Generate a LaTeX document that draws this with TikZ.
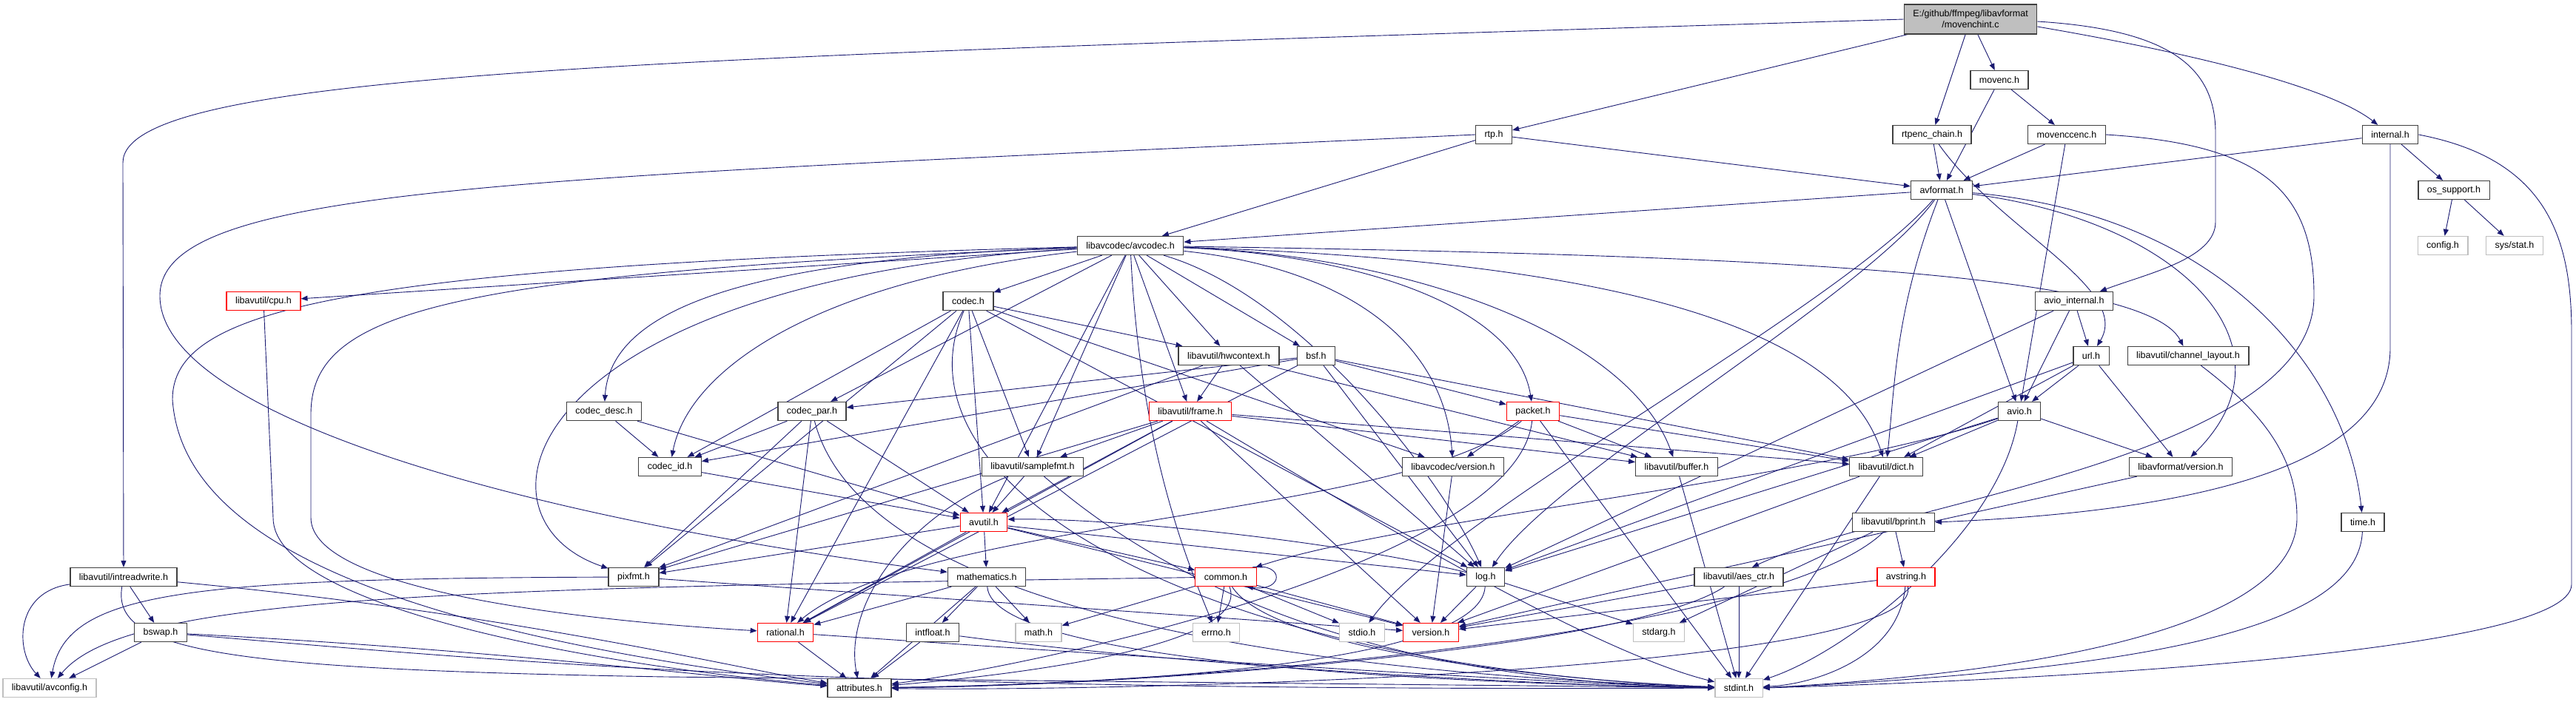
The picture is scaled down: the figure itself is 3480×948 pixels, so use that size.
\documentclass[tikz,border=0pt]{standalone}
\usepackage{fontspec}
\setmainfont{Liberation Sans}
\usetikzlibrary{arrows.meta,backgrounds}
\definecolor{edgeblue}{HTML}{191970}
\definecolor{boxline}{HTML}{404040}
\definecolor{sysgray}{HTML}{BFBFBF}

\begin{document}
\begin{tikzpicture}[x=1pt, y=-1pt,
        >={Triangle[length=9pt,width=7pt]},   %Pfeilspitzen
        font=\fontsize{12.5}{15}\selectfont,
        file/.style={draw=boxline, line width=1.3pt, fill=white, minimum height=25pt, inner xsep=12pt, inner ysep=0pt},
        trunc/.style={file, draw=red},
        sys/.style={file, draw=sysgray},
        dep/.style={->, draw=edgeblue, line width=0.9pt}]
        \useasboundingbox (0,0) rectangle (3480,948);
        % Knoten zeichnen
        \node[file, fill=sysgray, align=center, minimum height=40pt] (main) at (2662,26) {E:/github/ffmpeg/libavformat\\/movenchint.c};
        \node[file] (movenc) at (2701,108) {movenc.h};
        \node[file] (rtp) at (2018,182) {rtp.h};
        \node[file] (rtpchain) at (2610,182) {rtpenc\_chain.h};
        \node[file] (movcenc) at (2792,182) {movenccenc.h};
        \node[file] (internal) at (3229,182) {internal.h};
        \node[file] (avformat) at (2623,257) {avformat.h};
        \node[file] (ossupport) at (3315,257) {os\_support.h};
        \node[sys] (config) at (3300,332) {config.h};
        \node[sys] (sysstat) at (3397,332) {sys/stat.h};
        \node[file] (avcodec) at (1527,332) {libavcodec/avcodec.h};
        \node[trunc] (cpu) at (356,407) {libavutil/cpu.h};
        \node[file] (codec) at (1308,407) {codec.h};
        \node[file] (avioint) at (2802,407) {avio\_internal.h};
        \node[file] (hwctx) at (1660,481) {libavutil/hwcontext.h};
        \node[file] (bsf) at (1778,481) {bsf.h};
        \node[file] (url) at (2825,481) {url.h};
        \node[file] (chlayout) at (2956,481) {libavutil/channel\_layout.h};
        \node[file] (codecdesc) at (816,556) {codec\_desc.h};
        \node[file] (codecpar) at (1097,556) {codec\_par.h};
        \node[trunc] (frameh) at (1608,556) {libavutil/frame.h};
        \node[trunc] (packet) at (2071,556) {packet.h};
        \node[file] (avio) at (2728,556) {avio.h};
        \node[file] (codecid) at (905,631) {codec\_id.h};
        \node[file] (samplefmt) at (1395,631) {libavutil/samplefmt.h};
        \node[file] (lavcver) at (1963,631) {libavcodec/version.h};
        \node[file] (buffer) at (2265,631) {libavutil/buffer.h};
        \node[file] (dict) at (2548,631) {libavutil/dict.h};
        \node[file] (lavfver) at (2946,631) {libavformat/version.h};
        \node[trunc] (avutil) at (1329,706) {avutil.h};
        \node[file] (bprint) at (2558,706) {libavutil/bprint.h};
        \node[file] (timeh) at (3192,706) {time.h};
        \node[file] (intrw) at (167,780) {libavutil/intreadwrite.h};
        \node[file] (pixfmt) at (856,780) {pixfmt.h};
        \node[file] (mathem) at (1333,780) {mathematics.h};
        \node[trunc] (common) at (1656,780) {common.h};
        \node[file] (logh) at (2007,780) {log.h};
        \node[file] (aesctr) at (2349,780) {libavutil/aes\_ctr.h};
        \node[trunc] (avstring) at (2575,780) {avstring.h};
        \node[file] (bswap) at (217,855) {bswap.h};
        \node[trunc] (rational) at (1061,855) {rational.h};
        \node[file] (intfloat) at (1260,855) {intfloat.h};
        \node[sys] (mathh) at (1403,855) {math.h};
        \node[sys] (errnoh) at (1643,855) {errno.h};
        \node[sys] (stdio) at (1840,855) {stdio.h};
        \node[trunc] (version) at (1933,855) {version.h};
        \node[sys] (stdarg) at (2241,855) {stdarg.h};
        \node[sys] (avconfig) at (67,930) {libavutil/avconfig.h};
        \node[file] (attrib) at (1161,930) {attributes.h};
        \node[sys] (stdint) at (2349,930) {stdint.h};
        % Kanten zeichnen
        \begin{scope}[on background layer]
        \foreach \a/\b in {main/movenc, main/rtpchain, main/rtp, movenc/avformat, movenc/movcenc, movcenc/avformat, movcenc/avio,
            rtpchain/avformat, rtp/avformat, rtp/avcodec, internal/avformat, internal/ossupport, ossupport/config, ossupport/sysstat,
            avformat/avcodec, avformat/avio, avioint/url, avioint/avio, avioint/logh, url/avio, url/lavfver, url/dict, url/logh,
            avio/dict, avio/logh, avio/lavfver}
            \draw[dep] (\a) -- (\b);
        \foreach \b in {codec, hwctx, bsf, frameh, codecpar, samplefmt, avutil, cpu}
            \draw[dep] (avcodec) -- (\b);
        \foreach \a/\b in {codec/hwctx, codec/samplefmt, codec/codecid, codec/lavcver, codec/logh, codec/avutil, codec/pixfmt, codec/rational,
            bsf/packet, bsf/codecid, bsf/codecpar, bsf/dict, bsf/logh, bsf/rational, hwctx/frameh, hwctx/buffer, hwctx/logh, hwctx/pixfmt,
            codecdesc/codecid, codecdesc/avutil, codecpar/codecid, codecpar/avutil, codecpar/pixfmt, codecpar/rational,
            frameh/samplefmt, frameh/avutil, frameh/buffer, frameh/dict, frameh/rational, frameh/pixfmt, frameh/version,
            packet/lavcver, packet/buffer, packet/dict, packet/stdint, codecid/avutil, samplefmt/avutil,
            lavcver/version, buffer/stdint, dict/stdint, dict/version, lavfver/version, avutil/common, avutil/mathem,
            avutil/pixfmt, avutil/rational, avutil/version, logh/stdarg, logh/version, bprint/avstring, bprint/stdarg,
            pixfmt/version, mathem/intfloat, mathem/mathh, mathem/rational, mathem/attrib, common/errnoh, common/mathh,
            common/stdio, common/version, aesctr/stdint, aesctr/version, avstring/version, intrw/bswap, bswap/avconfig,
            rational/attrib, intfloat/attrib}
            \draw[dep] (\a) -- (\b);
        % lange Kanten
        \draw[dep] (main.west) .. controls (900,78) and (166,95) .. (166,220) -- (intrw);
        \draw[dep] ([yshift=-3pt]main.east) .. controls (2930,40) and (2993,90) .. (2993,180) -- (2993,300) .. controls (2993,350) and (2900,370) .. (avioint);
        \draw[dep] ([yshift=-10pt]main.east) .. controls (2980,75) and (3150,120) .. (internal);
        \draw[dep] (rtp.west) .. controls (700,242) and (216,250) .. (216,400) .. controls (216,560) and (700,700) .. (mathem);
        \draw[dep] (rtpchain) .. controls (2700,310) and (2880,390) .. (url);
        \draw[dep] (movcenc.east) .. controls (3060,195) and (3126,260) .. (3126,400) .. controls (3126,620) and (2550,680) .. ([xshift=18pt]aesctr.north);
        \draw[dep] (internal) -- (3229,470) .. controls (3229,620) and (3000,690) .. (bprint.east);
        \draw[dep] (internal.east) .. controls (3440,215) and (3474,320) .. (3474,450) -- (3474,790) .. controls (3474,880) and (2800,918) .. (stdint.east);
        \draw[dep] (avformat) .. controls (3000,290) and (3170,500) .. (timeh);
        \draw[dep] (avformat) .. controls (2950,300) and (3110,470) .. (lavfver);
        \draw[dep] (avformat) .. controls (2560,420) and (2560,520) .. (dict);
        \draw[dep] (avformat) .. controls (2520,400) and (2100,640) .. (logh);
        \draw[dep] (avformat) .. controls (2480,420) and (1950,700) .. (stdio);
        \draw[dep] (avio) .. controls (2450,650) and (1900,700) .. (common);
        \draw[dep] (avio) .. controls (2700,720) and (2500,880) .. (stdint);
        \draw[dep] (chlayout) .. controls (3060,560) and (3103,620) .. (3103,700) .. controls (3103,860) and (2700,912) .. (stdint.east);
        \draw[dep] (timeh) .. controls (3185,850) and (2900,905) .. (stdint.east);
        \draw[dep] (avcodec) .. controls (2400,345) and (2900,370) .. (chlayout);
        \draw[dep] (avcodec) .. controls (2100,350) and (2480,420) .. (dict);
        \draw[dep] (avcodec) .. controls (1900,345) and (2200,450) .. (buffer);
        \draw[dep] (avcodec) .. controls (1800,360) and (1950,450) .. (lavcver);
        \draw[dep] (avcodec) .. controls (1850,345) and (2050,420) .. (packet);
        \draw[dep] (avcodec) .. controls (1760,400) and (1950,650) .. (logh);
        \draw[dep] (avcodec) .. controls (1540,600) and (1600,750) .. (errnoh);
        \draw[dep] (avcodec) .. controls (1000,350) and (825,420) .. (codecdesc);
        \draw[dep] (avcodec) .. controls (1100,380) and (930,500) .. (codecid);
        \draw[dep] (avcodec) .. controls (700,380) and (620,700) .. (pixfmt);
        \draw[dep] (avcodec) .. controls (600,370) and (420,420) .. (420,560) -- (420,700) .. controls (420,800) and (800,840) .. (rational);
        \draw[dep] (avcodec) .. controls (450,360) and (233,420) .. (233,540) .. controls (245,720) and (500,850) .. (attrib);
        \draw[dep] (cpu) -- (369,700) .. controls (369,820) and (800,900) .. (attrib);
        \draw[dep] (codec) .. controls (1200,650) and (1600,900) .. (stdint);
        \draw[dep] (codecpar) .. controls (1150,760) and (1500,900) .. (stdint);
        \draw[dep] (frameh) .. controls (1850,700) and (2150,880) .. (stdint);
        \draw[dep] (packet) .. controls (1900,700) and (1250,700) .. (rational);
        \draw[dep] (packet) .. controls (2050,760) and (1400,900) .. (attrib);
        \draw[dep] (samplefmt) .. controls (1220,700) and (1140,820) .. (attrib);
        \draw[dep] (samplefmt) .. controls (1500,720) and (1750,920) .. (stdint);
        \draw[dep] ([yshift=-5pt]avutil.east) -- (logh);
        \draw[dep] (logh) .. controls (1800,730) and (1500,700) .. ([yshift=4pt]avutil.east);
        \draw[dep] (logh) .. controls (2000,900) and (1500,925) .. (attrib);
        \draw[dep] (common) .. controls (1690,870) and (1400,910) .. (attrib);
        \draw[dep] (common) .. controls (1720,880) and (2100,920) .. (stdint);
        \draw[dep] (common) .. controls (600,795) and (170,805) .. (avconfig);
        \draw[dep] ([xshift=-6pt]common.north east) .. controls (1735,760) and (1735,800) .. ([xshift=-14pt]common.south east);
        \draw[dep] (mathem) .. controls (1340,900) and (2000,925) .. (stdint);
        \draw[dep] (intfloat) .. controls (1600,900) and (2100,928) .. (stdint);
        \draw[dep] (rational) .. controls (1500,885) and (2100,925) .. (stdint);
        \draw[dep] (pixfmt) .. controls (250,782) and (90,800) .. (avconfig);
        \draw[dep] (intrw) .. controls (20,800) and (20,880) .. (avconfig);
        \draw[dep] (intrw) .. controls (700,830) and (1000,905) .. (attrib);
        \draw[dep] (intrw) .. controls (150,880) and (300,905) .. (900,915) -- (stdint);
        \draw[dep] (bswap) .. controls (700,880) and (1000,920) .. (attrib);
        \draw[dep] (bswap) .. controls (700,895) and (1100,935) .. (stdint);
        \draw[dep] (bprint) .. controls (2400,860) and (1600,925) .. (attrib);
        \draw[dep] (aesctr) .. controls (2200,880) and (1500,928) .. (attrib);
        \draw[dep] (avstring) .. controls (2565,890) and (2450,925) .. (stdint);
        \draw[dep] (avstring) .. controls (2600,910) and (1500,935) .. (attrib);
        \end{scope}
    \end{tikzpicture}
\end{document}
